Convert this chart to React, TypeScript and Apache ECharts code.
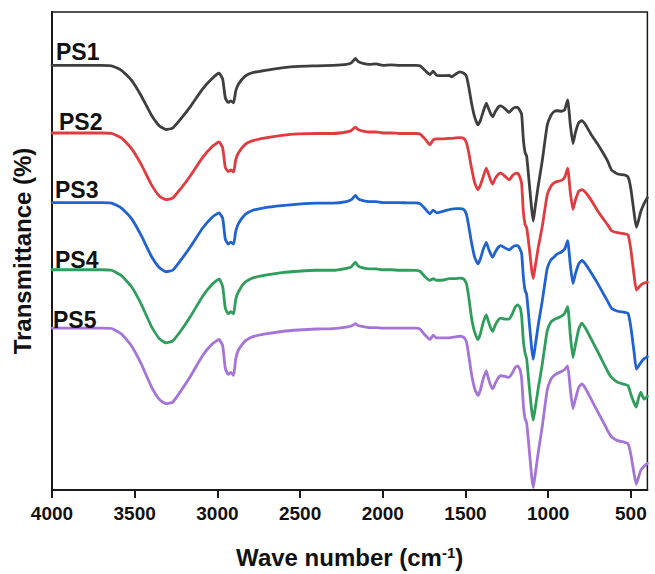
import React, { useEffect, useRef } from "react";
import * as echarts from "echarts";

// Wavenumbers (cm^-1), shared by all spectra
const wavenumbers = [
  4000, 3700, 3640, 3580, 3520, 3460, 3400, 3350, 3310, 3270,
  3220, 3160, 3090, 3030, 2990, 2968, 2952, 2935, 2918, 2902,
  2889, 2872, 2832, 2790, 2710, 2610, 2510, 2400, 2300, 2220,
  2190, 2165, 2150, 2120, 2080, 2040, 2000, 1950, 1900, 1850,
  1800, 1775, 1745, 1715, 1695, 1675, 1640, 1597, 1585, 1560,
  1535, 1510, 1494, 1480, 1464, 1445, 1425, 1410, 1394, 1374,
  1360, 1345, 1335, 1320, 1300, 1286, 1260, 1236, 1215, 1200,
  1185, 1170, 1160, 1150, 1140, 1130, 1115, 1100, 1090, 1078,
  1060, 1036, 1006, 984, 966, 945, 920, 900, 882, 866,
  850, 835, 815, 796, 775, 740, 700, 667, 640, 617,
  580, 540, 517, 500, 480, 467, 455, 440, 420, 400,
];

// Band depth below each spectrum's baseline (arbitrary transmittance units)
const ps1Depth = [
  0, 0, 0.5, 5, 15, 31, 50, 61.5, 65, 63.5,
  54, 41, 24, 13, 8, 14, 33, 37.5, 36, 38,
  26, 19, 11, 7.5, 5, 2.5, 1, 0.5, 0, -1,
  -2.5, -7, -4, -2, -1, -1.5, 0, -0.5, 0, 0,
  0, 0.5, 5, 9.3, 6, 10, 10.5, 10.3, 11.6, 9,
  6.6, 8, 11, 22, 37.6, 52, 60.3, 56, 47.6, 38.3,
  44, 50, 52, 47, 42, 41, 44, 47.6, 44, 42.5,
  42.6, 46, 50, 75, 88, 92, 118, 145, 157.6, 143,
  122, 97, 61, 51, 47, 46, 46.5, 45, 35, 60,
  79.3, 68, 58, 56, 60, 70, 80, 89, 97, 106,
  110, 111, 113, 125, 150, 164, 158, 148, 140, 134,
];
const ps2Depth = [
  0, 0, 0.5, 5, 15.5, 32, 52, 64, 67.4, 66,
  56, 42.5, 25, 13.5, 9, 15, 35, 39, 37.5, 39.5,
  27, 20, 11.5, 8, 5, 2.5, 1, 0.5, 0.5, -1,
  -2.5, -6, -3.5, -2, -1, -1, 0, 0, 0.5, 0.5,
  0.5, 1, 6, 12, 7, 6, 6, 5.5, 5.5, 5,
  4.7, 5.5, 10, 20, 35, 50, 57.4, 53, 45, 35.7,
  42, 49, 51.7, 46, 41.5, 40.7, 44, 47.4, 43, 41,
  40.7, 45, 52, 80, 92.4, 96, 115, 138, 147.4, 135,
  116, 95, 63, 54, 50.7, 49, 48, 45, 35.7, 60,
  77.4, 68, 59, 57.4, 60, 68, 79, 87, 93, 99,
  101, 102, 103, 118, 145, 159, 157, 154, 152, 151,
];
const ps3Depth = [
  0, 0, 0.5, 5.5, 16, 33.5, 54, 66, 70, 68.5,
  58, 44, 26, 14.5, 10.3, 16, 37, 42, 40, 42,
  29, 21, 12, 8, 5, 3, 1.5, 0.5, 0.5, -1,
  -3, -7.4, -4, -2, -1, -1, 0, 0, 0, 0.3,
  0.3, 1, 6, 11.3, 7.6, 10.3, 9, 7, 6.5, 6,
  6, 7, 12, 24, 40, 55, 62, 57, 48, 40.3,
  47, 53, 55.3, 50, 45, 43.6, 46, 48, 45, 43.6,
  43.6, 47, 52, 75, 88.6, 93, 120, 147, 158.6, 145,
  124, 100, 67, 58, 55.3, 52, 50, 47, 38.6, 63,
  82, 72, 62, 58.6, 62, 71, 82, 92, 100, 107,
  110, 111, 112, 126, 152, 168.6, 166, 162, 158, 156,
];
const ps4Depth = [
  0, 0, 0.5, 6, 17, 35, 57, 70, 74, 72,
  61.5, 46.5, 27, 14.5, 9.3, 17, 39, 44.6, 42.5, 44.6,
  30, 22, 12.5, 8.5, 5.5, 3, 1.5, 0.5, 0.5, -1.5,
  -3, -7.7, -4, -2, -1, -1, 0, 0, 0.5, 0.5,
  0.6, 1.5, 7, 10.6, 9, 10.6, 10.6, 9, 9, 9,
  8.5, 9.5, 14, 28, 48, 63, 70.6, 65, 54, 45.6,
  53, 60, 62.3, 56, 50.5, 49, 50, 50, 44, 38,
  35.6, 38, 48, 72, 84, 90, 117, 142, 152.3, 140,
  120, 96, 62, 53, 50.6, 49, 47, 44, 37.3, 66,
  89, 76, 60, 54, 59, 70, 83, 94, 103, 109,
  114, 116, 117.3, 126, 135, 139, 131, 124, 131, 128,
];
const ps5Depth = [
  0, 0, 0.5, 6, 18, 36.5, 59, 72.5, 76.6, 75,
  63.5, 48, 28, 16, 11.6, 18, 41, 47, 45, 48,
  31, 22, 13, 9, 6, 3.5, 2, 1, 0.5, -1,
  -2, -4.4, -2.5, -1.5, -0.5, -0.5, 0, 0, 0, 0,
  0, 1, 7, 11.6, 7.3, 10, 10, 10, 9.5, 9,
  8.3, 9.5, 14, 28, 46, 61, 68.3, 63, 52, 43.3,
  52, 59, 61.6, 56, 50, 48.3, 49, 50, 45, 40,
  38.3, 42, 52, 78, 91.6, 96, 122, 150, 161.6, 148,
  126, 100, 63, 52, 48.3, 46, 44, 42, 38.3, 62,
  81.6, 72, 60, 56.6, 61, 72, 85, 95, 104, 110,
  114, 115.6, 117, 128, 148, 158.3, 152, 144, 140, 137,
];

const seriesNames = ["PS1", "PS2", "PS3", "PS4", "PS5"];
const seriesDepths = [ps1Depth, ps2Depth, ps3Depth, ps4Depth, ps5Depth];
// Vertical stacking offsets (baseline of each spectrum)
const offsets = [430, 361.5, 291, 223, 164];
const colors = ["#3e3e3e", "#e03b3f", "#1f62d0", "#2f9d5c", "#a474d8"];
const xTickValues = [500, 1000, 1500, 2000, 2500, 3000, 3500, 4000];

// label anchor (left x, vertical middle y) in page pixels
const labelPos = [
  [56, 52],
  [59, 122],
  [55, 190],
  [55, 260],
  [53, 320],
];

const FONT = "'Liberation Sans', Arial, Helvetica, sans-serif";

export default function App() {
  const ref = useRef<HTMLDivElement>(null);
  useEffect(() => {
    if (!ref.current) return;
    const chart = echarts.init(ref.current, undefined, { renderer: "svg" });
    const series = seriesNames.map((name, k) => ({
      name,
      type: "line",
      data: wavenumbers.map((w, i) => [w, offsets[k] - seriesDepths[k][i]]),
      showSymbol: false,
      symbol: "none",
      smooth: 0.15,
      lineStyle: { color: colors[k], width: 2.8, join: "round", cap: "round" },
      itemStyle: { color: colors[k] },
      z: 3,
      silent: true,
    }));
    chart.setOption({
      animation: false,
      backgroundColor: "#ffffff",
      textStyle: { fontFamily: FONT },
      grid: {
        left: 52,
        right: 2,
        top: 12,
        bottom: 78,
        show: true,
        borderColor: "#1a1a1a",
        borderWidth: 1.5,
        containLabel: false,
      },
      xAxis: {
        type: "value",
        inverse: true,
        min: 400,
        max: 4000,
        splitNumber: 7,
        name: "Wave number (cm{sup|-1})",
        nameLocation: "middle",
        nameGap: 55,
        nameTextStyle: {
          fontFamily: FONT,
          fontSize: 24,
          fontWeight: "bold",
          color: "#111",
          rich: {
            sup: {
              fontFamily: FONT,
              fontSize: 15,
              fontWeight: "bold",
              color: "#111",
              verticalAlign: "top",
            },
          },
        },
        axisLine: { show: true, lineStyle: { color: "#1a1a1a", width: 2 } },
        axisTick: {
          show: true,
          inside: false,
          length: 8,
          customValues: xTickValues,
          lineStyle: { color: "#1a1a1a", width: 2 },
        },
        axisLabel: {
          show: true,
          customValues: xTickValues,
          margin: 14,
          fontFamily: FONT,
          fontSize: 19,
          fontWeight: "bold",
          color: "#111",
          formatter: (v: number) => (v % 500 === 0 ? String(v) : ""),
        },
        splitLine: { show: false },
      },
      yAxis: {
        type: "value",
        min: 0,
        max: 484,
        name: "Transmittance (%)",
        nameLocation: "middle",
        nameRotate: 90,
        nameGap: 18,
        nameTextStyle: {
          fontFamily: FONT,
          fontSize: 24,
          fontWeight: "bold",
          color: "#111",
        },
        axisLine: { show: true, lineStyle: { color: "#1a1a1a", width: 2 } },
        axisTick: { show: false },
        axisLabel: { show: false },
        splitLine: { show: false },
      },
      graphic: seriesNames.map((name, k) => ({
        type: "text",
        x: labelPos[k][0],
        y: labelPos[k][1],
        z: 10,
        style: {
          text: name,
          fill: "#111",
          font: `bold 23px ${FONT}`,
          textAlign: "left",
          textVerticalAlign: "middle",
        },
      })),
      series,
    });
    return () => chart.dispose();
  }, []);
  return (
    <div
      ref={ref}
      style={{
        position: "fixed",
        left: 0,
        top: 0,
        width: 655,
        height: 574,
        background: "#fff",
      }}
    />
  );
}
